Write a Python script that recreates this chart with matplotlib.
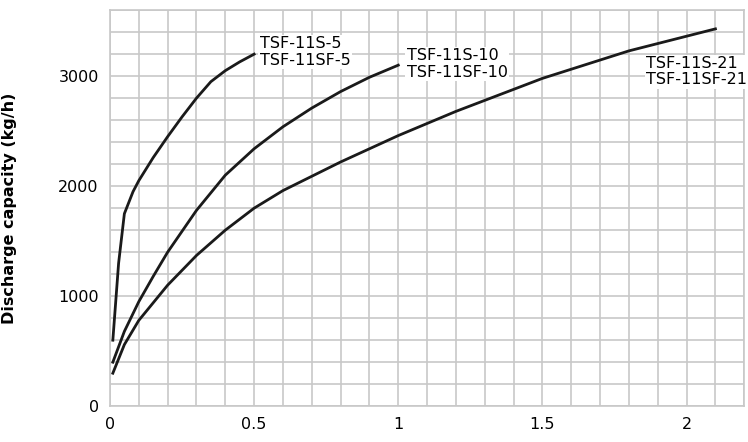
import matplotlib
matplotlib.use("Agg")
import matplotlib.pyplot as plt
import numpy as np

x5 = [0.01, 0.03, 0.05, 0.08, 0.1, 0.15, 0.2, 0.25, 0.3, 0.35, 0.4, 0.45, 0.5]
y5 = [600, 1300, 1750, 1950, 2050, 2260, 2450, 2630, 2800, 2950, 3050, 3130, 3200]
x10 = [0.01, 0.05, 0.1, 0.15, 0.2, 0.3, 0.4, 0.5, 0.6, 0.7, 0.8, 0.9, 1.0]
y10 = [400, 680, 950, 1180, 1400, 1780, 2100, 2340, 2540, 2710, 2860, 2990, 3100]
x21 = [0.01, 0.05, 0.1, 0.2, 0.3, 0.4, 0.5, 0.6, 0.7, 0.8, 1.0, 1.2, 1.5, 1.8, 2.1]
y21 = [300, 560, 780, 1100, 1370, 1600, 1800, 1960, 2090, 2220, 2460, 2680, 2980, 3230, 3430]
labels = [("TSF-11S-5\nTSF-11SF-5", 0.52, 3220),
          ("TSF-11S-10\nTSF-11SF-10", 1.03, 3110),
          ("TSF-11S-21\nTSF-11SF-21", 1.86, 3040)]
xticks = [0, 0.5, 1, 1.5, 2]
yticks = [0, 1000, 2000, 3000]

fig = plt.figure(figsize=(7.48, 4.42), dpi=100)
ax = fig.add_axes([0.147, 0.081, 0.848, 0.896])
ax.set_xlim(0, 2.2)
ax.set_ylim(0, 3600)
ax.set_xticks(np.arange(0, 2.21, 0.1), minor=True)
ax.set_yticks(np.arange(0, 3601, 200), minor=True)
ax.set_xticks(xticks)
ax.set_xticklabels(["0", "0.5", "1", "1.5", "2"])
ax.set_yticks(yticks)
ax.grid(which="both", color="#c8c8c8", linewidth=1.2)
ax.set_axisbelow(True)
for s in ax.spines.values():
    s.set_color("#c8c8c8"); s.set_linewidth(1.2)
ax.tick_params(which="both", length=0, labelsize=11.5, pad=8)
for x, y in [(x5, y5), (x10, y10), (x21, y21)]:
    ax.plot(x, y, color="#1a1a1a", linewidth=2)
for t, x, y in labels:
    ax.text(x, y, t, fontsize=11.5, ha="left", va="center", linespacing=1.1,
            bbox=dict(facecolor="white", edgecolor="none", pad=1))
ax.set_ylabel("Discharge capacity (kg/h)", fontsize=11.5, fontweight="bold", labelpad=30)
fig.savefig("out.png", dpi=100)
